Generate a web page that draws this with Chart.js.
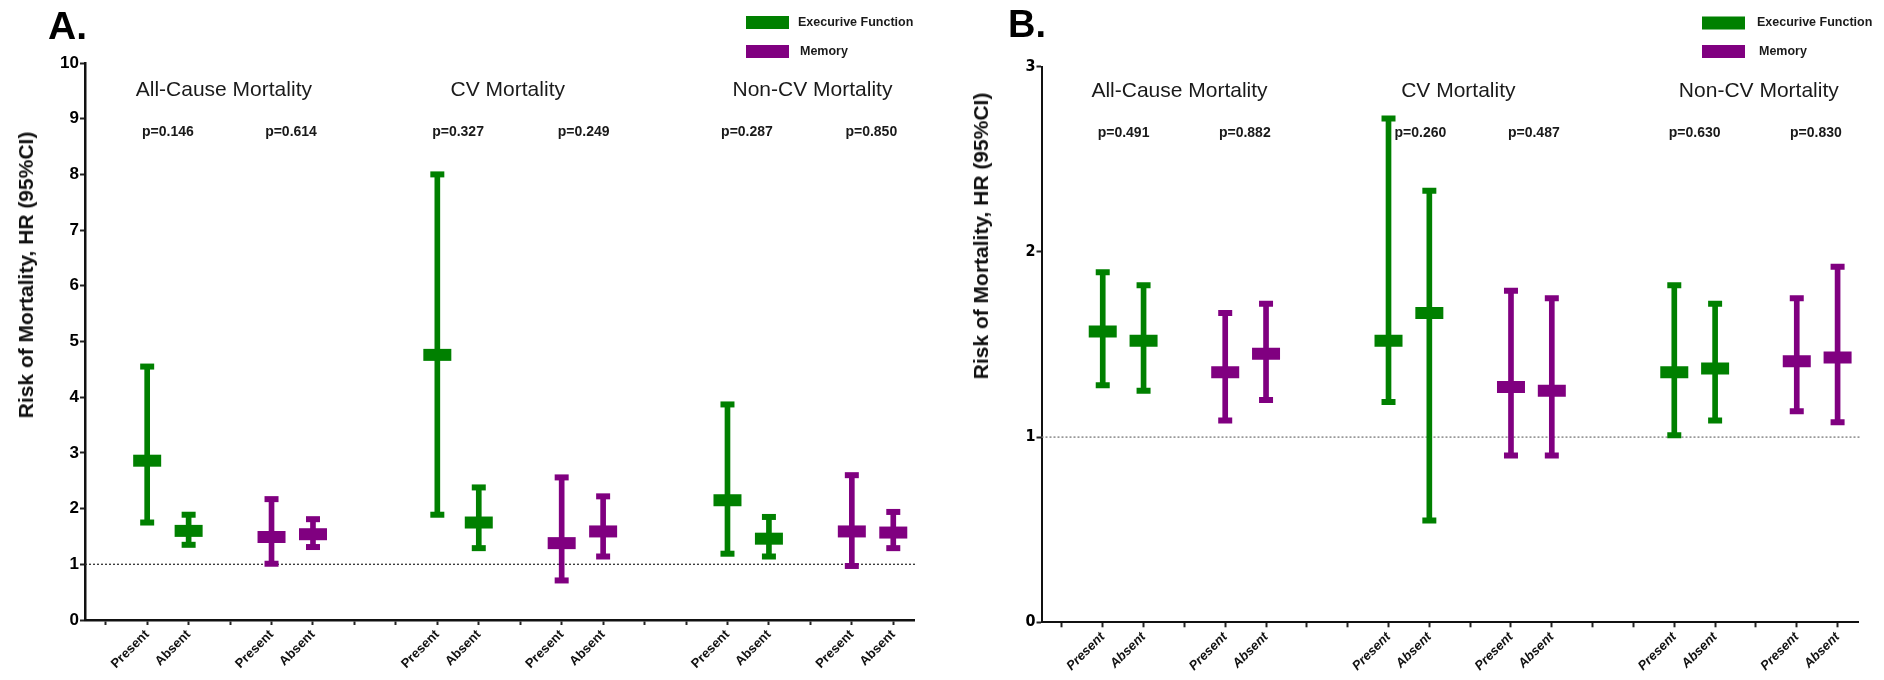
<!DOCTYPE html>
<html>
<head>
<meta charset="utf-8">
<script src="https://cdn.jsdelivr.net/npm/chart.js@4.4.0/dist/chart.umd.min.js"></script>
<style>
    html, body { margin: 0; padding: 0; background: #fff; }
    #wrap { position: relative; width: 1884px; height: 680px; overflow: hidden; }
    .panel { position: absolute; top: 0; }
    .ytitle {
        position: absolute;
        font: bold 21px 'Liberation Sans', Arial, sans-serif;
        color: #111;
        white-space: nowrap;
        transform: translate(-50%, -50%) rotate(-90deg);
    }
</style>
</head>
<body>
<div id="wrap">
    <canvas id="panelA" class="panel" width="940" height="680" style="left:0px"></canvas>
    <canvas id="panelB" class="panel" width="944" height="680" style="left:940px"></canvas>
    <div class="ytitle" style="left:26px; top:275px">Risk of Mortality, HR (95%CI)</div>
    <div class="ytitle" style="left:981px; top:236px">Risk of Mortality, HR (95%CI)</div>
</div>
<script>
// x slots, with blank slots between the pairs like the original plot
const slotLabels = ['', 'Present', 'Absent', '', 'Present', 'Absent', '', '',
    'Present', 'Absent', '', 'Present', 'Absent', '', '',
    'Present', 'Absent', '', 'Present', 'Absent'];
const efSlots = [1, 2, 8, 9, 15, 16];
const memSlots = [4, 5, 11, 12, 18, 19];

const outcomes = ['All-Cause Mortality', 'CV Mortality', 'Non-CV Mortality'];
const seriesNames = ['Execurive Function', 'Memory'];

// Panel A  (order: all-cause present/absent, CV present/absent, non-CV present/absent)
const pValuesA = ['p=0.146', 'p=0.614', 'p=0.327', 'p=0.249', 'p=0.287', 'p=0.850'];
const efHR_A = [2.86, 1.60, 4.76, 1.75, 2.15, 1.46];
const efLow_A = [1.75, 1.35, 1.89, 1.29, 1.19, 1.14];
const efHigh_A = [4.55, 1.89, 8.00, 2.38, 3.87, 1.85];
const memHR_A = [1.49, 1.54, 1.38, 1.59, 1.59, 1.57];
const memLow_A = [1.01, 1.31, 0.71, 1.14, 0.97, 1.29];
const memHigh_A = [2.17, 1.81, 2.56, 2.22, 2.60, 1.94];

// Panel B
const pValuesB = ['p=0.491', 'p=0.882', 'p=0.260', 'p=0.487', 'p=0.630', 'p=0.830'];
const efHR_B = [1.57, 1.52, 1.52, 1.67, 1.35, 1.37];
const efLow_B = [1.28, 1.25, 1.19, 0.55, 1.01, 1.09];
const efHigh_B = [1.89, 1.82, 2.72, 2.33, 1.82, 1.72];
const memHR_B = [1.35, 1.45, 1.27, 1.25, 1.41, 1.43];
const memLow_B = [1.09, 1.20, 0.90, 0.90, 1.14, 1.08];
const memHigh_B = [1.67, 1.72, 1.79, 1.75, 1.75, 1.92];

const GREEN = '#008000';
const PURPLE = '#800080';
const SANS = "'Liberation Sans', Arial, sans-serif";
const NARROW = "'Liberation Sans Narrow', 'Arial Narrow', 'DejaVu Sans Condensed', sans-serif";

// spread 6 values onto the 20 slots
function toSlots(slots, values) {
    const out = new Array(slotLabels.length).fill(null);
    slots.forEach((s, i) => { out[s] = values[i]; });
    return out;
}

function seriesDatasets(slots, hr, low, high, color) {
    const ranges = low.map((v, i) => [v, high[i]]);
    return [
        {
            type: 'line', data: toSlots(slots, hr), showLine: false,
            pointStyle: 'line', pointRadius: 14, pointBorderWidth: 12,
            pointBorderColor: color, borderColor: color, order: 1
        },
        {
            type: 'line', data: toSlots(slots, high), showLine: false,
            pointStyle: 'line', pointRadius: 7, pointBorderWidth: 6,
            pointBorderColor: color, borderColor: color, order: 2
        },
        {
            type: 'line', data: toSlots(slots, low), showLine: false,
            pointStyle: 'line', pointRadius: 7, pointBorderWidth: 6,
            pointBorderColor: color, borderColor: color, order: 2
        },
        {
            type: 'bar', data: toSlots(slots, ranges), backgroundColor: color,
            barThickness: 5, grouped: false, order: 3
        }
    ];
}

// reference line, outcome titles, p values, panel letter and legend
const annotate = {
    id: 'annotate',
    beforeDatasetsDraw(chart, args, o) {
        const { ctx, chartArea } = chart;
        const yRef = chart.scales.y.getPixelForValue(o.refValue);
        ctx.save();
        ctx.setLineDash([2, 2]);
        ctx.strokeStyle = o.refColor;
        ctx.lineWidth = 1.3;
        ctx.beginPath();
        ctx.moveTo(chartArea.left, yRef);
        ctx.lineTo(chartArea.right + 2, yRef);
        ctx.stroke();
        ctx.restore();
    },
    afterDatasetsDraw(chart, args, o) {
        const { ctx } = chart;
        const x = chart.scales.x, y = chart.scales.y;
        ctx.save();
        ctx.textAlign = 'center';
        ctx.textBaseline = 'middle';
        ctx.fillStyle = '#1a1a1a';
        ctx.font = '21px ' + SANS;
        outcomes.forEach((t, i) => {
            ctx.fillText(t, x.getPixelForValue(o.titleSlots[i]), y.getPixelForValue(o.titleY));
        });
        ctx.font = 'bold 14px ' + SANS;
        o.pValues.forEach((t, i) => {
            ctx.fillText(t, x.getPixelForValue(o.pSlots[i]), y.getPixelForValue(o.pY));
        });
        ctx.restore();
    },
    afterDraw(chart, args, o) {
        const { ctx } = chart;
        ctx.save();
        ctx.fillStyle = '#000';
        ctx.textBaseline = 'alphabetic';
        ctx.font = 'bold ' + o.letterSize + 'px ' + SANS;
        ctx.fillText(o.letter, o.letterX, o.letterY);
        ctx.font = 'bold 12.5px ' + SANS;
        ctx.textBaseline = 'middle';
        [GREEN, PURPLE].forEach((c, i) => {
            const yy = o.legendY[i];
            ctx.fillStyle = c;
            ctx.fillRect(o.legendX, yy - 6.5, 43, 13);
            ctx.fillStyle = '#1a1a1a';
            ctx.fillText(seriesNames[i], o.legendTextX + (i ? 2 : 0), yy);
        });
        ctx.restore();
    }
};

function makePanel(id, p) {
    const ctx = document.getElementById(id).getContext('2d');
    new Chart(ctx, {
        type: 'bar',
        data: {
            labels: slotLabels,
            datasets: [
                ...seriesDatasets(efSlots, p.efHR, p.efLow, p.efHigh, GREEN),
                ...seriesDatasets(memSlots, p.memHR, p.memLow, p.memHigh, PURPLE)
            ]
        },
        options: {
            responsive: false,
            animation: false,
            events: [],
            layout: { padding: { top: p.top, right: p.right, bottom: 0, left: 0 } },
            plugins: {
                legend: { display: false },
                tooltip: { enabled: false },
                annotate: p.notes
            },
            scales: {
                x: {
                    offset: true,
                    grid: {
                        display: true, drawOnChartArea: false, offset: false,
                        tickLength: 5, tickWidth: 2, tickColor: '#222'
                    },
                    border: { display: true, color: '#111', width: p.axisWidth },
                    ticks: {
                        autoSkip: false, maxRotation: 45, minRotation: 45, padding: 2,
                        color: '#111',
                        font: { family: SANS, size: 13, weight: 'bold', style: p.xStyle }
                    },
                    afterFit: s => { s.height = p.xHeight; }
                },
                y: {
                    min: 0,
                    max: p.yMax,
                    ticks: {
                        stepSize: 1, padding: 1, color: '#000',
                        font: { family: p.yFont, size: p.yFontSize, weight: 'bold' }
                    },
                    grid: {
                        display: true, drawOnChartArea: false,
                        tickLength: 5, tickWidth: 2, tickColor: '#222'
                    },
                    border: { display: true, color: '#111', width: p.axisWidth },
                    afterFit: s => { s.width = p.yWidth; }
                }
            }
        },
        plugins: [annotate]
    });
}

makePanel('panelA', {
    efHR: efHR_A, efLow: efLow_A, efHigh: efHigh_A,
    memHR: memHR_A, memLow: memLow_A, memHigh: memHigh_A,
    yMax: 10, top: 63, right: 18, yWidth: 85, xHeight: 60,
    axisWidth: 2.5, xStyle: 'normal', yFont: SANS, yFontSize: 17,
    notes: {
        refValue: 1, refColor: '#333',
        titleSlots: [2.85, 9.7, 17.05], titleY: 9.51,
        pValues: pValuesA, pSlots: [1.5, 4.47, 8.5, 11.53, 15.47, 18.47], pY: 8.75,
        letter: 'A.', letterSize: 39, letterX: 48, letterY: 39,
        legendX: 746, legendTextX: 798, legendY: [22.5, 51.5]
    }
});

makePanel('panelB', {
    efHR: efHR_B, efLow: efLow_B, efHigh: efHigh_B,
    memHR: memHR_B, memLow: memLow_B, memHigh: memHigh_B,
    yMax: 3, top: 66.7, right: 7.5, yWidth: 101.5, xHeight: 57.7,
    axisWidth: 2, xStyle: 'italic', yFont: NARROW, yFontSize: 16,
    notes: {
        refValue: 1, refColor: '#777',
        titleSlots: [2.88, 9.71, 17.07], titleY: 2.87,
        pValues: pValuesB, pSlots: [1.51, 4.48, 8.78, 11.56, 15.5, 18.47], pY: 2.64,
        letter: 'B.', letterSize: 38, letterX: 68, letterY: 37,
        legendX: 762, legendTextX: 817, legendY: [23, 51.5]
    }
});
</script>
</body>
</html>
